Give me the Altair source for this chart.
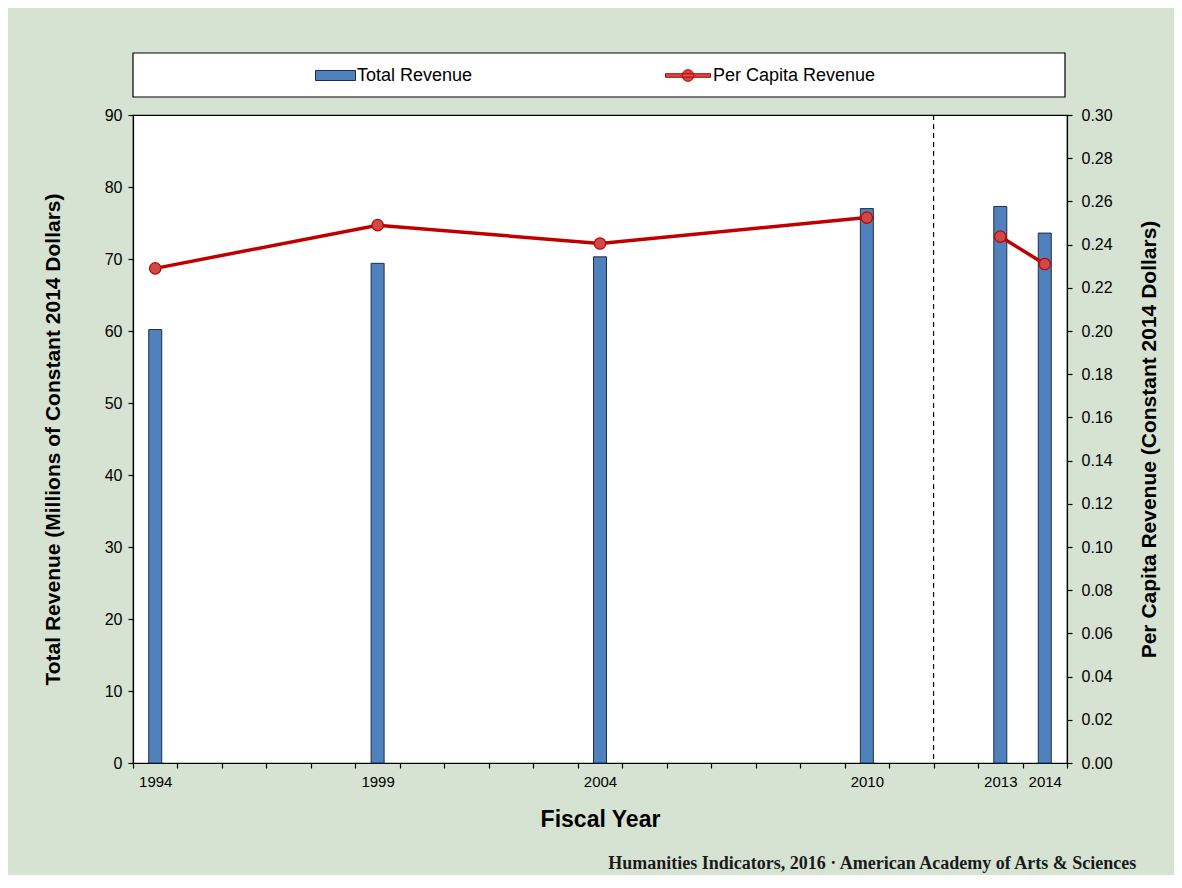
import altair as alt
import pandas as pd

# ---- data ----
all_years = list(range(1994, 2015))
label_years = [1994, 1999, 2004, 2010, 2013, 2014]
years = [1994, 1999, 2004, 2010, 2013, 2014]
total_revenue = [60.2, 69.4, 70.3, 77.0, 77.3, 73.6]
per_capita = [0.229, 0.249, 0.2405, 0.2525, 0.2437, 0.231]
divider_year = [2011]
left_ticks = [0, 10, 20, 30, 40, 50, 60, 70, 80, 90]
right_ticks = [round(i * 0.02, 2) for i in range(16)]

df = pd.DataFrame({
    "year": years,
    "total": total_revenue,
    "percap": per_capita,
    "period": ["before" if y <= divider_year[0] else "after" for y in years],
    "s_total": ["Total Revenue"] * len(years),
    "s_pc": ["Per Capita Revenue"] * len(years),
})
div_df = pd.DataFrame({"year": divider_year})
box_df = pd.DataFrame({"k": [0]})

FONT = "Liberation Sans"
BLUE = "#4f81bd"
NAVY = "#1f2d4d"
RED = "#c00000"
DOT = "#cf4a46"

label_expr = "indexof([" + ",".join(str(y) for y in label_years) + "], datum.value) >= 0 ? datum.label : ''"

x_axis = alt.Axis(
    title="Fiscal Year", tickBand="extent", labelExpr=label_expr, labelAngle=0,
    labelOverlap=False, labelFontSize=15, labelPadding=6, titleFontSize=23,
    titlePadding=19, titleFontWeight="bold",
)
x_scale = alt.Scale(domain=all_years, paddingInner=0, paddingOuter=0)
x_enc = alt.X("year:O", scale=x_scale, axis=x_axis)

box = alt.Chart(box_df).mark_rect(fill="white", stroke="black", strokeWidth=1.2).encode(
    x=alt.value(0), x2=alt.value(932), y=alt.value(-62), y2=alt.value(-18)
)

bars = alt.Chart(df).mark_bar(size=13, stroke=NAVY, strokeWidth=1).encode(
    x=x_enc,
    y=alt.Y("total:Q", scale=alt.Scale(domain=[0, 90]),
            axis=alt.Axis(orient="left", values=left_ticks,
                          title="Total Revenue (Millions of Constant 2014 Dollars)",
                          labelFontSize=16, titleFontSize=21, titlePadding=41,
                          labelPadding=6)),
    color=alt.Color("s_total:N", scale=alt.Scale(domain=["Total Revenue"], range=[BLUE]),
                    legend=alt.Legend(title=None, orient="none", legendX=182, legendY=-60,
                                      symbolType="M-1,-0.25H1V0.25H-1Z", symbolSize=1600,
                                      symbolStrokeColor=NAVY, symbolStrokeWidth=1,
                                      labelFontSize=18, labelFont=FONT, labelOffset=1,
                                      labelLimit=400, padding=0, labelColor="black")),
)

right_axis = alt.Axis(orient="right", values=right_ticks, format=".2f",
                      title="Per Capita Revenue (Constant 2014 Dollars)",
                      labelFontSize=16, titleFontSize=21, titlePadding=47,
                      labelPadding=9, titleAngle=270)

line = alt.Chart(df).mark_line(color=RED, strokeWidth=3.5).encode(
    x=x_enc,
    y=alt.Y("percap:Q", scale=alt.Scale(domain=[0, 0.30]), axis=right_axis),
    detail="period:N",
)
points = alt.Chart(df).mark_point(filled=True, size=130, stroke=RED, strokeWidth=1.2, opacity=1).encode(
    x=x_enc,
    y=alt.Y("percap:Q", scale=alt.Scale(domain=[0, 0.30]), axis=right_axis),
    color=alt.Color("s_pc:N", scale=alt.Scale(domain=["Per Capita Revenue"], range=[DOT]),
                    legend=alt.Legend(title=None, orient="none", legendX=532, legendY=-62.5,
                                      symbolType="M-1,-0.08H1V0.08H-1Z M0.26,0 A0.26,0.26 0 1,1 -0.26,0 A0.26,0.26 0 1,1 0.26,0Z",
                                      symbolSize=2025, symbolStrokeColor=RED, symbolStrokeWidth=1,
                                      labelFontSize=18, labelFont=FONT, labelOffset=2,
                                      labelLimit=400, padding=0, labelColor="black")),
)

rule = alt.Chart(div_df).mark_rule(color="black", strokeDash=[5, 4], strokeWidth=1.2).encode(
    x=alt.X("year:O", scale=x_scale, axis=x_axis, bandPosition=1),
)

chart = alt.layer(
    box, rule, bars, alt.layer(line, points)
).resolve_scale(
    y="independent", color="independent"
).resolve_legend(
    color="independent"
).properties(
    width=934, height=648,
    padding={"left": 125, "top": 107, "right": 107, "bottom": 112},
    autosize=alt.AutoSizeParams(type="none"),
    background="#d6e3d2",
    title=alt.TitleParams(
        "Humanities  Indicators, 2016 \u00b7 American Academy of Arts & Sciences",
        orient="bottom", anchor="end", font="Liberation Serif", fontSize=18,
        fontWeight="bold", color="#1a1a1a", offset=24, dx=-23,
    ),
).configure_view(
    stroke="black", strokeWidth=1.2, fill="white"
).configure_axis(
    labelFont=FONT, titleFont=FONT, labelColor="black", titleColor="black",
    domainColor="black", tickColor="black", tickSize=5, grid=False,
    titleFontWeight="bold", domainWidth=1.2, tickWidth=1.2,
)

chart.save("out.html", embed_options={"renderer": "svg", "actions": False})
